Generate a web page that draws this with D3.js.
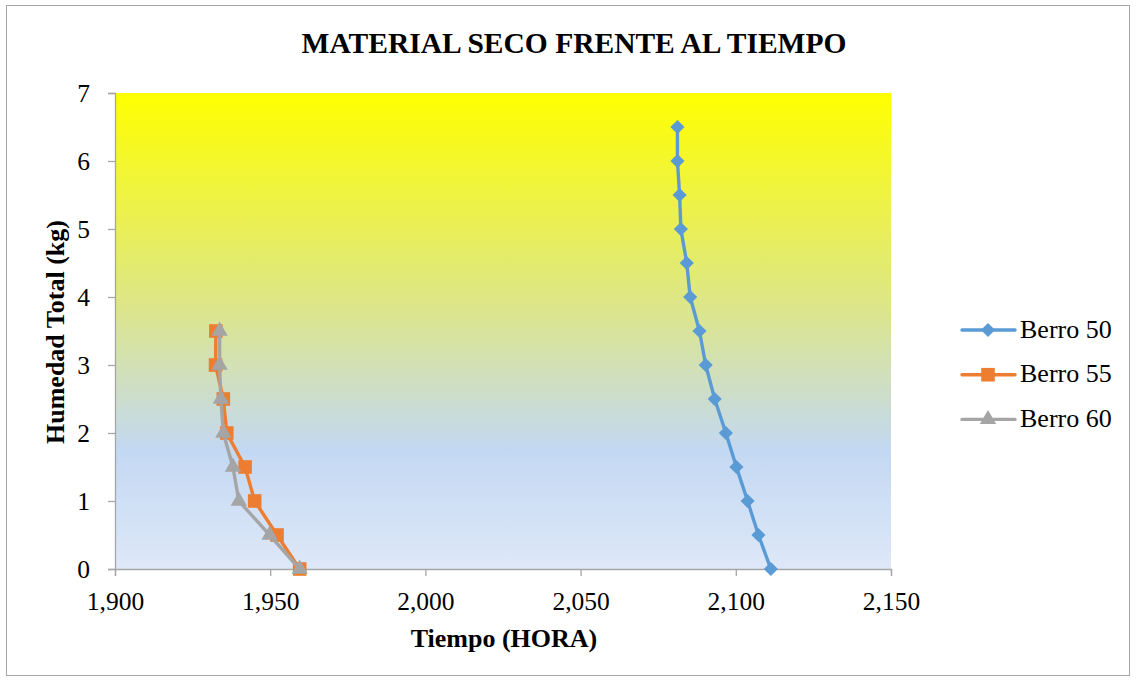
<!DOCTYPE html>
<html>
<head>
<meta charset="utf-8">
<script src="https://cdn.jsdelivr.net/npm/d3@7"></script>
<style>
  html, body { margin: 0; padding: 0; background: #fff; }
</style>
</head>
<body>
<svg id="chart" width="1136" height="681"></svg>
<script>
// Moisture levels (kg) shared by every series
const humedad = [6.5, 6, 5.5, 5, 4.5, 4, 3.5, 3, 2.5, 2, 1.5, 1, 0.5, 0];
const humedadCorta = [3.5, 3, 2.5, 2, 1.5, 1, 0.5, 0];

// Time (hours) for each series
const tiempoBerro50 = [2081.2, 2081.2, 2081.9, 2082.3, 2084.2, 2085.3, 2088.3, 2090.3, 2093.2, 2096.8, 2100.2, 2103.8, 2107.3, 2111.3];
const tiempoBerro55 = [1932.5, 1932.4, 1934.9, 1936.0, 1941.9, 1945.0, 1952.2, 1959.5];
const tiempoBerro60 = [1933.7, 1933.7, 1934.1, 1934.9, 1938.0, 1939.9, 1949.8, 1959.5];

const seriesNames = ["Berro 50", "Berro 55", "Berro 60"];
const seriesColors = ["#5B9BD5", "#ED7D31", "#A5A5A5"];
const xTicks = [1900, 1950, 2000, 2050, 2100, 2150];
const yTicks = [0, 1, 2, 3, 4, 5, 6, 7];

const FONT = "'Liberation Serif', 'DejaVu Serif', serif";

// Marker shapes: diamond is a square turned 45 degrees
const series = [
  { name: seriesNames[0], color: seriesColors[0], symbol: d3.symbolSquare, size: 100, rot: 45, x: tiempoBerro50, y: humedad },
  { name: seriesNames[1], color: seriesColors[1], symbol: d3.symbolSquare, size: 185, rot: 0, x: tiempoBerro55, y: humedadCorta },
  { name: seriesNames[2], color: seriesColors[2], symbol: d3.symbolTriangle, size: 115, rot: 0, x: tiempoBerro60, y: humedadCorta }
];

const svg = d3.select("#chart").attr("font-family", FONT);
const W = 1136, H = 681;
const plot = { left: 115, right: 891, top: 93, bottom: 569 };

// Outer chart frame
svg.append("rect").attr("x", 6.5).attr("y", 5.5).attr("width", W - 13).attr("height", H - 11)
  .attr("fill", "#fff").attr("stroke", "#A6A6A6").attr("stroke-width", 1);

const x = d3.scaleLinear().domain([1900, 2150]).range([plot.left, plot.right]);
const y = d3.scaleLinear().domain([0, 7]).range([plot.bottom, plot.top]);

// Plot-area gradient fill
const defs = svg.append("defs");
const grad = defs.append("linearGradient").attr("id", "bg").attr("x1", 0).attr("y1", 0).attr("x2", 0).attr("y2", 1);
grad.append("stop").attr("offset", "0%").attr("stop-color", "#FFFF00");
grad.append("stop").attr("offset", "45%").attr("stop-color", "#DCE68A");
grad.append("stop").attr("offset", "75%").attr("stop-color", "#C3D8F2");
grad.append("stop").attr("offset", "100%").attr("stop-color", "#DEE8F8");

svg.append("rect").attr("x", plot.left).attr("y", plot.top)
  .attr("width", plot.right - plot.left).attr("height", plot.bottom - plot.top)
  .attr("fill", "url(#bg)");

// Axes
const xAxis = svg.append("g").attr("transform", `translate(0,${plot.bottom})`)
  .call(d3.axisBottom(x).tickValues(xTicks).tickFormat(d3.format(",")).tickSize(7).tickPadding(16));
const yAxis = svg.append("g").attr("transform", `translate(${plot.left},0)`)
  .call(d3.axisLeft(y).tickValues(yTicks).tickFormat(d3.format("d")).tickSize(7).tickPadding(18));

[xAxis, yAxis].forEach(g => {
  g.attr("font-family", FONT);
  g.select(".domain").attr("stroke", "#A6A6A6").attr("stroke-width", 1.3);
  g.selectAll(".tick line").attr("stroke", "#A6A6A6").attr("stroke-width", 1.3);
  g.selectAll(".tick text").attr("fill", "#000").attr("font-size", 25.5).attr("font-family", FONT);
});
xAxis.selectAll(".tick text").attr("dy", "0.71em");
yAxis.selectAll(".tick text").attr("dy", "0.33em");

// Lines and markers
const line = d3.line().x(d => x(d[0])).y(d => y(d[1]));
series.forEach(s => {
  const pts = s.x.map((v, i) => [v, s.y[i]]);
  svg.append("path").datum(pts).attr("d", line)
    .attr("fill", "none").attr("stroke", s.color).attr("stroke-width", 3.4)
    .attr("stroke-linejoin", "round").attr("stroke-linecap", "round");
  svg.append("g").selectAll("path").data(pts).join("path")
    .attr("transform", d => `translate(${x(d[0])},${y(d[1])}) rotate(${s.rot})`)
    .attr("d", d3.symbol().type(s.symbol).size(s.size))
    .attr("fill", s.color);
});

// Title
svg.append("text").attr("x", 574).attr("y", 53).attr("text-anchor", "middle")
  .attr("font-family", FONT).attr("font-size", 29.5).attr("font-weight", "bold")
  .text("MATERIAL SECO FRENTE AL TIEMPO");

// Axis titles
svg.append("text").attr("x", 504).attr("y", 647).attr("text-anchor", "middle")
  .attr("font-family", FONT).attr("font-size", 26).attr("font-weight", "bold").text("Tiempo (HORA)");
svg.append("text").attr("transform", "translate(64,332) rotate(-90)").attr("text-anchor", "middle")
  .attr("font-family", FONT).attr("font-size", 26).attr("font-weight", "bold").text("Humedad Total (kg)");

// Legend
const legend = svg.append("g");
series.forEach((s, i) => {
  const ly = 330 + i * 44.7;
  const g = legend.append("g").attr("transform", `translate(0,${ly})`);
  g.append("line").attr("x1", 962).attr("x2", 1015).attr("y1", 0).attr("y2", 0)
    .attr("stroke", s.color).attr("stroke-width", 3.4).attr("stroke-linecap", "round");
  g.append("path").attr("transform", `translate(988,0) rotate(${s.rot})`)
    .attr("d", d3.symbol().type(s.symbol).size(s.size)).attr("fill", s.color);
  g.append("text").attr("x", 1020).attr("y", 7.5)
    .attr("font-family", FONT).attr("font-size", 26).text(s.name);
});
</script>
</body>
</html>
